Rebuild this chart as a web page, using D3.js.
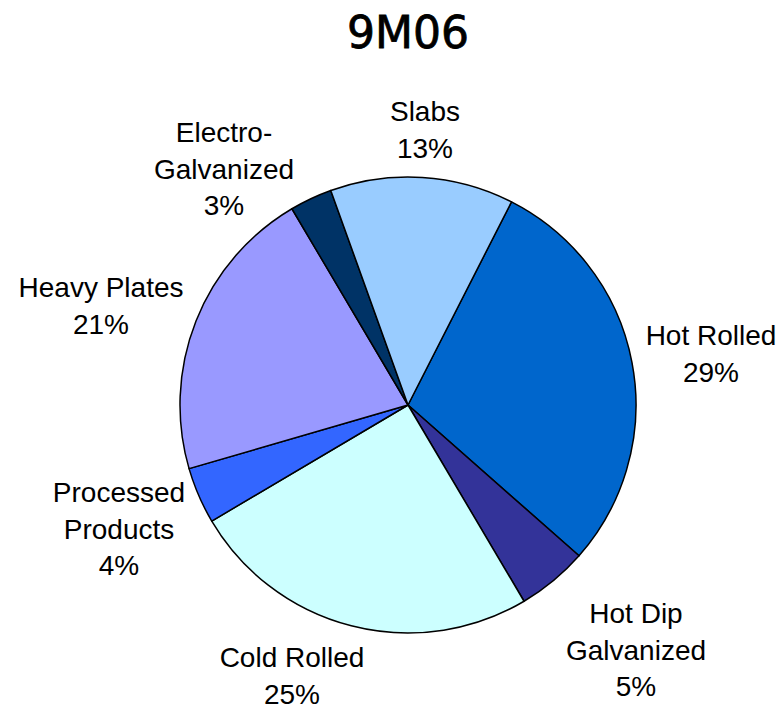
<!DOCTYPE html>
<html>
<head>
<meta charset="utf-8">
<script src="https://cdn.jsdelivr.net/npm/d3@7"></script>
<style>
  html, body { margin: 0; padding: 0; background: #fff; }
  svg { display: block; }
</style>
</head>
<body>
<svg id="chart" width="783" height="709"></svg>
<script>
// Product mix, nine months 2006 (share of shipments, %)
const title = "9M06";
const categories = ["Hot Rolled", "Hot Dip Galvanized", "Cold Rolled", "Processed Products", "Heavy Plates", "Electro-Galvanized", "Slabs"];
const labelLines = [["Hot Rolled"], ["Hot Dip", "Galvanized"], ["Cold Rolled"], ["Processed", "Products"], ["Heavy Plates"], ["Electro-", "Galvanized"], ["Slabs"]];
const shares = [29, 5, 25, 4, 21, 3, 13];
const colors = ["#0066CC", "#333399", "#CCFFFF", "#3366FF", "#9999FF", "#003366", "#99CCFF"];

// Label placement (centre x, first baseline y) in page coordinates, one per slice
const labelAnchors = [[711, 345], [636, 623], [292, 667], [119, 502], [101, 297], [224, 142], [425, 121]];

const cx = 408, cy = 405, R = 228;
const startDeg = 27;
const fontSize = 28, lineGap = 36.5;

const svg = d3.select("#chart");

svg.append("text")
  .attr("x", cx).attr("y", 48)
  .attr("text-anchor", "middle")
  .attr("font-family", "DejaVu Sans, sans-serif")
  .attr("font-size", 44)
  .attr("fill", "#000")
  .attr("stroke", "#000")
  .attr("stroke-width", 0.8)
  .text(title);

const data = categories.map((c, i) => ({ name: c, value: shares[i], lines: labelLines[i], color: colors[i], anchor: labelAnchors[i] }));

const pie = d3.pie()
  .value(d => d.value)
  .sort(null)
  .startAngle(startDeg * Math.PI / 180)
  .endAngle((startDeg + 360) * Math.PI / 180);

const arcs = pie(data);
const arc = d3.arc().innerRadius(0).outerRadius(R);

const g = svg.append("g").attr("transform", `translate(${cx},${cy})`);

g.selectAll("path.slice")
  .data(arcs)
  .join("path")
  .attr("class", "slice")
  .attr("d", arc)
  .attr("fill", d => d.data.color)
  .attr("stroke", "#000")
  .attr("stroke-width", 1.5)
  .attr("stroke-linejoin", "round");

// Category name and percentage beside each slice
const labels = svg.selectAll("text.label")
  .data(arcs)
  .join("text")
  .attr("class", "label")
  .attr("text-anchor", "middle")
  .attr("font-family", "Liberation Sans, Arial, sans-serif")
  .attr("font-size", fontSize)
  .attr("fill", "#000");

labels.each(function(d) {
  const t = d3.select(this);
  const [x, y] = d.data.anchor;
  const lines = d.data.lines.concat([d.data.value + "%"]);
  lines.forEach((ln, i) => {
    t.append("tspan").attr("x", x).attr("y", y + i * lineGap).text(ln);
  });
});
</script>
</body>
</html>
